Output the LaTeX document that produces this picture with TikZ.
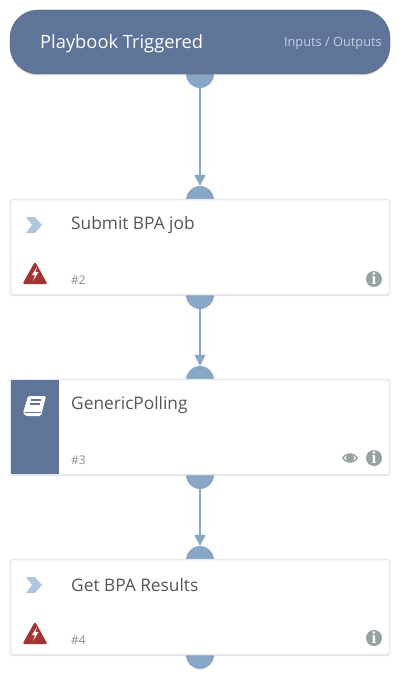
\documentclass[tikz,border=0pt]{standalone}
\usepackage{fontspec}
\setmainfont{Open Sans}
\newfontfamily\infofont{Liberation Serif}
\usetikzlibrary{shadows,arrows.meta}
\definecolor{bandblue}{HTML}{5F7499}
\definecolor{portblue}{HTML}{88A6C5}
\definecolor{chevblue}{HTML}{AFC6DC}
\definecolor{cardedge}{HTML}{E6E9EE}
\definecolor{titlegrey}{HTML}{555555}
\definecolor{numgrey}{HTML}{8C8C8C}
\definecolor{iconred}{HTML}{A33533}
\definecolor{icongrey}{HTML}{95A3A2}
\definecolor{iolabel}{HTML}{C6D0DE}
\begin{document}
\begin{tikzpicture}[
        x=1pt, y=-1pt,
        trigger/.style={rectangle, fill=bandblue, draw=bandblue!85!black, rounded corners=28pt, minimum width=380pt, minimum height=64pt, inner sep=0pt, drop shadow={shadow xshift=0pt, shadow yshift=-1.5pt, opacity=.3}},
        card/.style={rectangle, fill=white, draw=cardedge, line width=1.5pt, rounded corners=2pt, minimum width=379pt, minimum height=95pt, inner sep=0pt, drop shadow={shadow xshift=0pt, shadow yshift=-1.5pt, opacity=.22}},
        port/.style={circle, fill=portblue, minimum size=28pt, inner sep=0pt},
        title/.style={anchor=west, inner sep=0pt, text=titlegrey, font=\fontsize{17.3}{20}\selectfont},
        number/.style={anchor=west, inner sep=0pt, text=numgrey, font=\fontsize{12}{14}\selectfont},
        info/.style={circle, fill=icongrey, minimum size=16pt, inner sep=0pt, text=white, font=\infofont\fontsize{17}{17}\selectfont\bfseries},
        arrow/.style={-{Triangle[length=11pt,width=11pt]}, draw=portblue, line width=1.5pt}
    ]
        \useasboundingbox (0,0) rectangle (400,679);

        % ports sit behind the boxes
        \node[port] (triggerout) at (200,74) {};
        \node[port] (submitin) at (200,200) {};
        \node[port] (submitout) at (200,295) {};
        \node[port] (pollingin) at (200,380) {};
        \node[port] (pollingout) at (200,475) {};
        \node[port] (resultsin) at (200,560) {};
        \node[port] (resultsout) at (200,655) {};

        \node[trigger] (trigger) at (200,42) {};
        \node[card] (submit) at (200,247) {};
        \node[card] (polling) at (200,427) {};
        \node[card] (results) at (200,607) {};

        \draw[arrow] (triggerout.south) -- (submitin.north);
        \draw[arrow] (submitout.south) -- (pollingin.north);
        \draw[arrow] (pollingout.south) -- (resultsin.north);

        % trigger texts
        \node[anchor=west, inner sep=0pt, text=white, font=\fontsize{18.3}{22}\selectfont] (triggertext) at (40,44) {Playbook Triggered};
        \node[anchor=east, inner sep=0pt, text=iolabel, font=\fontsize{12.8}{15}\selectfont] (iotext) at (382,43) {Inputs / Outputs};

        % polling band
        \fill[bandblue] (11,380) rectangle (59,474);

        \node[title] (submittext) at (71,225.5) {Submit BPA job};
        \node[title] (pollingtext) at (71,405.5) {GenericPolling};
        \node[title] (resultstext) at (71,585) {Get BPA Results};
        \node[number] (submitnum) at (71,280) {\#2};
        \node[number] (pollingnum) at (71,460) {\#3};
        \node[number] (resultsnum) at (71,640) {\#4};

        \node[info] (submitinfo) at (374,279) {i};
        \node[info] (pollinginfo) at (374,458) {i};
        \node[info] (resultsinfo) at (374,638) {i};

        % chevrons
        \foreach \y in {225,585} {
            \fill[chevblue] (26,\y-8) -- (35,\y-8) -- (42,\y) -- (35,\y+8) -- (26,\y+8) -- (32,\y) -- cycle;
        }
        % warning signs
        \foreach \y in {273,633} {
            \fill[iconred, rounded corners=1.5pt] (35,\y-11.5) -- (47.5,\y+11) -- (22.5,\y+11) -- cycle;
            \fill[white] (37,\y-6) -- (32,\y+2) -- (35,\y+2) -- (33,\y+8) -- (38.5,\y-1) -- (35.5,\y-1) -- cycle;
        }
        % book
        \fill[white, rounded corners=1.5pt] (28,396) -- (46,396) -- (41,416) -- (26,416) -- (23,413) -- cycle;
        \draw[bandblue, line width=1pt] (25,412.5) -- (41,412.5);
        \draw[bandblue, line width=1.2pt] (31,400) -- (41,400) (30,404) -- (40,404);
        % eye
        \fill[icongrey] (342,458) .. controls (346,451.5) and (354,451.5) .. (358,458) .. controls (354,464.5) and (346,464.5) .. (342,458) -- cycle;
        \fill[white] (343.8,458) .. controls (347,453.5) and (353,453.5) .. (356.2,458) .. controls (353,462.5) and (347,462.5) .. (343.8,458) -- cycle;
        \fill[icongrey] (350,458) circle (4.2pt);
    \end{tikzpicture}
\end{document}
